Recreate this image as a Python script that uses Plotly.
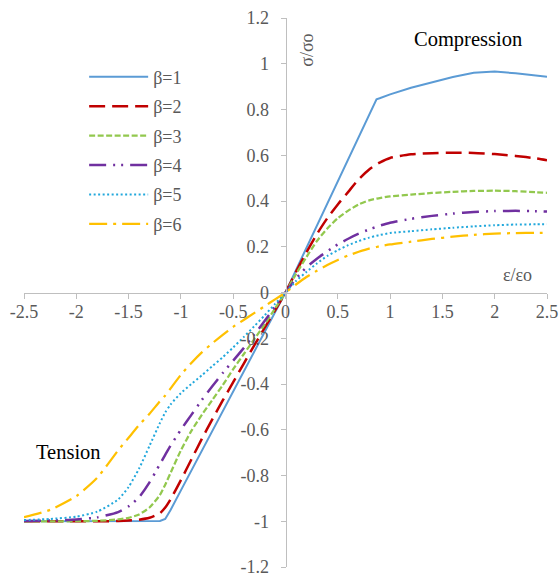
import plotly.graph_objects as go

# ---- data ----
x_tension = [-2.5, -2.25, -2.0, -1.8, -1.6, -1.5, -1.4, -1.3, -1.2, -1.15, -1.1,
             -1.0, -0.9, -0.8, -0.7, -0.6, -0.5, -0.4, -0.3, -0.2, -0.1, 0.0]
x_compression = [0.1, 0.2, 0.3, 0.4, 0.5, 0.6, 0.7, 0.8, 0.87, 0.9, 1.0,
                 1.2, 1.4, 1.6, 1.8, 2.0, 2.2, 2.4, 2.5]

b1_tension = [-1.0, -1.0, -1.0, -1.0, -1.0, -1.0, -1.0, -1.0, -0.999, -0.99, -0.952,
              -0.865, -0.779, -0.692, -0.606, -0.519, -0.433, -0.346, -0.26, -0.173, -0.087, 0.0]
b2_tension = [-1.0, -1.0, -1.0, -1.0, -0.999, -0.997, -0.993, -0.985, -0.965, -0.94, -0.905,
              -0.82, -0.73, -0.64, -0.555, -0.472, -0.392, -0.312, -0.232, -0.155, -0.078, 0.0]
b3_tension = [-1.0, -1.0, -1.0, -0.998, -0.992, -0.985, -0.97, -0.94, -0.885, -0.84, -0.79,
              -0.69, -0.605, -0.535, -0.47, -0.405, -0.335, -0.27, -0.205, -0.14, -0.07, 0.0]
b4_tension = [-0.999, -0.997, -0.992, -0.983, -0.96, -0.935, -0.895, -0.83, -0.75, -0.71, -0.67,
              -0.6, -0.535, -0.47, -0.41, -0.352, -0.298, -0.243, -0.185, -0.125, -0.062, 0.0]
b5_tension = [-0.995, -0.99, -0.98, -0.958, -0.905, -0.85, -0.77, -0.67, -0.57, -0.525, -0.49,
              -0.44, -0.4, -0.362, -0.322, -0.283, -0.24, -0.195, -0.148, -0.1, -0.05, 0.0]
b6_tension = [-0.982, -0.95, -0.89, -0.81, -0.69, -0.635, -0.58, -0.53, -0.475, -0.45, -0.42,
              -0.36, -0.308, -0.262, -0.222, -0.185, -0.15, -0.12, -0.09, -0.06, -0.03, 0.0]

b1_compression = [0.098, 0.195, 0.293, 0.39, 0.488, 0.586, 0.683, 0.781, 0.845, 0.849, 0.866,
                  0.895, 0.92, 0.942, 0.961, 0.966, 0.958, 0.948, 0.943]
b2_compression = [0.09, 0.175, 0.255, 0.325, 0.385, 0.44, 0.495, 0.538, 0.56, 0.568, 0.588,
                  0.604, 0.609, 0.611, 0.61, 0.605, 0.597, 0.586, 0.578]
b3_compression = [0.08, 0.155, 0.225, 0.28, 0.325, 0.358, 0.385, 0.403, 0.41, 0.413, 0.42,
                  0.428, 0.435, 0.44, 0.444, 0.445, 0.443, 0.438, 0.436]
b4_compression = [0.06, 0.11, 0.148, 0.18, 0.21, 0.235, 0.257, 0.276, 0.287, 0.292, 0.305,
                  0.322, 0.335, 0.345, 0.352, 0.356, 0.357, 0.355, 0.354]
b5_compression = [0.05, 0.09, 0.127, 0.16, 0.185, 0.207, 0.225, 0.24, 0.248, 0.251, 0.26,
                  0.268, 0.276, 0.283, 0.289, 0.294, 0.297, 0.298, 0.298]
b6_compression = [0.035, 0.068, 0.095, 0.12, 0.142, 0.162, 0.178, 0.192, 0.199, 0.202, 0.21,
                  0.222, 0.234, 0.244, 0.252, 0.257, 0.26, 0.261, 0.261]

series_names = ["β=1", "β=2", "β=3", "β=4", "β=5", "β=6"]
x_ticks = [-2.5, -2, -1.5, -1, -0.5, 0, 0.5, 1, 1.5, 2, 2.5]
x_tick_labels = ["-2.5", "-2", "-1.5", "-1", "-0.5", "0", "0.5", "1", "1.5", "2", "2.5"]
y_ticks = [-1.2, -1, -0.8, -0.6, -0.4, -0.2, 0, 0.2, 0.4, 0.6, 0.8, 1, 1.2]
y_tick_labels = ["-1.2", "-1", "-0.8", "-0.6", "-0.4", "-0.2", "0", "0.2", "0.4", "0.6", "0.8", "1", "1.2"]

# ---- styles ----
tension_sets = [b1_tension, b2_tension, b3_tension, b4_tension, b5_tension, b6_tension]
compression_sets = [b1_compression, b2_compression, b3_compression, b4_compression,
                    b5_compression, b6_compression]
colors = ["#5B9BD5", "#C00000", "#92C84E", "#7030A0", "#22A8DC", "#FFC000"]
dashes = ["solid", "16px,7px", "6px,2.5px", "17px,7px,2px,6px,2px,7px", "2px,2.5px", "18px,6px,3px,6px"]
widths = [2.0, 2.5, 2.25, 2.5, 2.0, 2.25]
shapes_ = ["linear", "spline", "spline", "spline", "spline", "spline"]

FONT = "Liberation Serif"
GRAY = "#595959"
AX = "#BFBFBF"

fig = go.Figure()
for i in range(6):
    fig.add_trace(go.Scatter(
        x=x_tension + x_compression,
        y=tension_sets[i] + compression_sets[i],
        mode="lines",
        name=series_names[i],
        legendgroup=series_names[i],
        line=dict(color=colors[i], width=widths[i], dash=dashes[i],
                  shape=shapes_[i], smoothing=0.6 if shapes_[i] == "spline" else None),
    ))

axis_common = dict(showgrid=False, zeroline=False, showline=True, linecolor=AX, linewidth=1,
                   tickcolor=AX, ticklen=5, tickwidth=1, anchor="free", position=0.5,
                   tickfont=dict(family=FONT, size=18, color=GRAY), fixedrange=True,
                   automargin=False)

fig.update_layout(
    width=559, height=578,
    margin=dict(l=23.5, r=11.5, t=18.3, b=10.7),
    paper_bgcolor="white", plot_bgcolor="white",
    showlegend=True,
    font=dict(family=FONT, size=18, color=GRAY),
    xaxis=dict(range=[-2.5, 2.5], tickmode="array", tickvals=x_ticks, ticktext=x_tick_labels,
               ticks="outside", side="bottom", ticklabelstandoff=-2, **axis_common),
    yaxis=dict(range=[-1.2, 1.2], tickmode="array", tickvals=y_ticks, ticktext=y_tick_labels,
               ticks="outside", side="left", ticklabelstandoff=8, **axis_common),
    xaxis2=dict(range=[-2.5, 2.5], overlaying="x", tickmode="array", tickvals=x_ticks,
                ticks="inside", showticklabels=False, showline=False, showgrid=False,
                zeroline=False, tickcolor=AX, ticklen=5, anchor="free", position=0.5),
    yaxis2=dict(range=[-1.2, 1.2], overlaying="y", tickmode="array", tickvals=y_ticks,
                ticks="inside", showticklabels=False, showline=False, showgrid=False,
                zeroline=False, tickcolor=AX, ticklen=5, anchor="free", position=0.5, side="left"),
    legend=dict(x=0.115, y=0.926, xanchor="left", yanchor="top", bgcolor="rgba(0,0,0,0)",
                font=dict(family=FONT, size=18, color=GRAY), itemwidth=59,
                tracegroupgap=3),
)

annotations = [
    dict(text="Compression", x=0.848, y=0.9605, font=dict(family=FONT, size=20.5, color="black")),
    dict(text="Tension", x=0.085, y=0.21, font=dict(family=FONT, size=20.5, color="black")),
    dict(text="σ/σo", x=0.541, y=0.942, textangle=-90, font=dict(family=FONT, size=18, color=GRAY)),
    dict(text="ε/εo", x=0.9437, y=0.5324, font=dict(family=FONT, size=18, color=GRAY)),
]
for a in annotations:
    fig.add_annotation(xref="paper", yref="paper", showarrow=False,
                       xanchor="center", yanchor="middle", **a)

fig.write_html("out.html")
